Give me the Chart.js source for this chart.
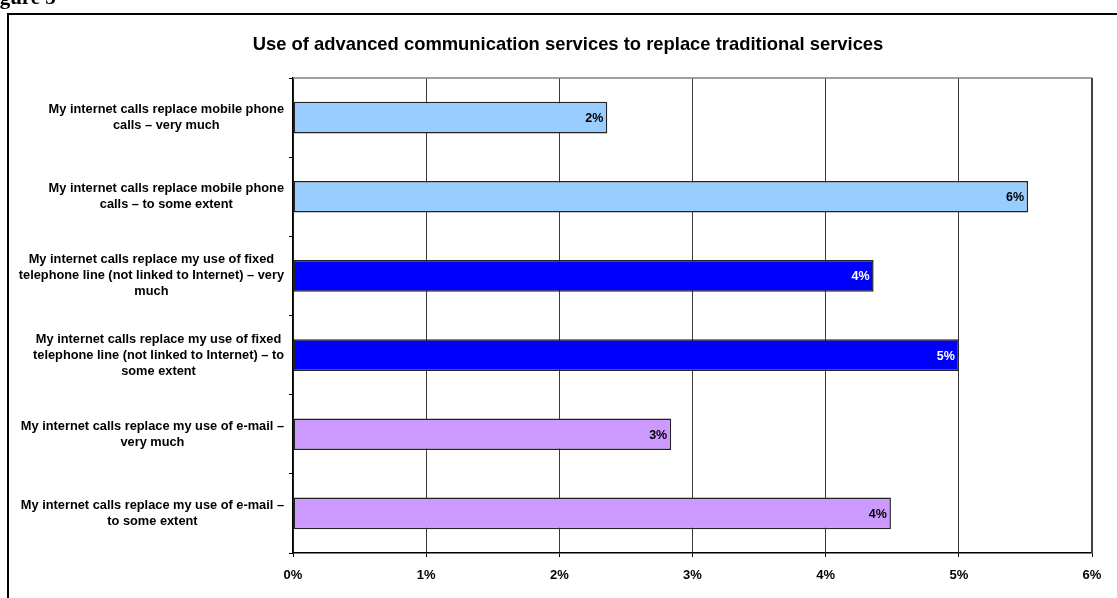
<!DOCTYPE html>
<html>
<head>
<meta charset="utf-8">
<script src="https://cdn.jsdelivr.net/npm/chart.js@4/dist/chart.umd.min.js"></script>
<style>
  html, body { margin: 0; padding: 0; background: #fff; }
  #wrap { position: relative; width: 1117px; height: 598px; overflow: hidden; }
</style>
</head>
<body>
<div id="wrap"><canvas id="chart" width="1117" height="598"></canvas></div>
<script>
// categories (y axis labels, top to bottom)
const categories = [
  ["My internet calls replace mobile phone", "calls \u2013 very much"],
  ["My internet calls replace mobile phone", "calls \u2013 to some extent"],
  ["My internet calls replace my use of fixed", "telephone line (not linked to Internet) \u2013 very", "much"],
  ["My internet calls replace my use of fixed", "telephone line (not linked to Internet) \u2013 to", "some extent"],
  ["My internet calls replace my use of e-mail \u2013", "very much"],
  ["My internet calls replace my use of e-mail \u2013", "to some extent"]
];
// share of respondents, in percent
const values = [2.36, 5.52, 4.36, 5.00, 2.84, 4.49];
const barColors = ["#99CCFF", "#99CCFF", "#0000FF", "#0000FF", "#CC99FF", "#CC99FF"];
const labelColors = ["#000", "#000", "#fff", "#fff", "#000", "#000"];
const xTicks = [0, 1, 2, 3, 4, 5, 6];
const chartTitle = "Use of advanced communication services to replace traditional services";

Chart.defaults.font.family = '"Liberation Sans", Arial, sans-serif';
Chart.defaults.color = "#000";

const decor = {
  id: "decor",
  beforeDraw(chart) {
    const ctx = chart.ctx;
    ctx.save();
    // cut-off caption above the chart box
    ctx.fillStyle = "#000";
    ctx.font = 'bold 21px "Liberation Serif", "Times New Roman", serif';
    ctx.textBaseline = "alphabetic";
    ctx.textAlign = "left";
    ctx.fillText("Figure 3", -19, 4);
    // outer chart box
    ctx.strokeStyle = "#000";
    ctx.lineWidth = 2;
    ctx.strokeRect(8, 14, 1200, 700);
    // title
    ctx.font = 'bold 18.4px "Liberation Sans", Arial, sans-serif';
    ctx.textAlign = "center";
    ctx.textBaseline = "middle";
    ctx.fillText(chartTitle, 568, 45);
    ctx.restore();
  },
  beforeDatasetsDraw(chart) {
    const { ctx, chartArea: a } = chart;
    ctx.save();
    ctx.strokeStyle = "#808080";
    ctx.lineWidth = 1.5;
    ctx.beginPath();
    ctx.moveTo(a.left, a.top);
    ctx.lineTo(a.right, a.top);
    ctx.stroke();
    ctx.strokeStyle = "#404040";
    ctx.lineWidth = 2;
    ctx.beginPath();
    ctx.moveTo(a.right, a.top);
    ctx.lineTo(a.right, a.bottom);
    ctx.stroke();
    ctx.restore();
  },
  afterDatasetsDraw(chart) {
    const ctx = chart.ctx;
    const meta = chart.getDatasetMeta(0);
    ctx.save();
    ctx.font = 'bold 12.5px "Liberation Sans", Arial, sans-serif';
    ctx.textAlign = "right";
    ctx.textBaseline = "middle";
    meta.data.forEach((bar, i) => {
      ctx.fillStyle = labelColors[i];
      ctx.fillText(Math.round(values[i]) + "%", bar.x - 4, bar.y + 1);
    });
    // category labels: centred lines, block right-aligned to the axis
    ctx.font = 'bold 12.8px "Liberation Sans", Arial, sans-serif';
    const yScale = chart.scales.y;
    const right = yScale.right - 9;
    categories.forEach((lines, i) => {
      const y = yScale.getPixelForValue(i);
      const w = Math.max(...lines.map(l => ctx.measureText(l).width));
      const cx = right - w / 2;
      ctx.fillStyle = "#000";
      ctx.textAlign = "center";
      lines.forEach((l, j) => {
        ctx.fillText(l, cx, y + (j - (lines.length - 1) / 2) * 16);
      });
    });
    ctx.restore();
  }
};

new Chart(document.getElementById("chart"), {
  type: "bar",
  data: {
    labels: categories,
    datasets: [{
      data: values,
      backgroundColor: barColors,
      borderColor: "#222",
      borderWidth: 1.5,
      borderSkipped: false,
      barPercentage: 0.4,
      categoryPercentage: 1
    }]
  },
  options: {
    indexAxis: "y",
    responsive: false,
    animation: false,
    layout: { padding: { top: 78, left: 0, right: 25, bottom: 0 } },
    plugins: { legend: { display: false }, tooltip: { enabled: false }, title: { display: false } },
    scales: {
      x: {
        min: 0, max: 6,
        afterFit(scale) { scale.height = 45; },
        afterBuildTicks(scale) { scale.ticks = xTicks.map(v => ({ value: v })); },
        ticks: {
          stepSize: 1,
          padding: 11,
          font: { size: 13, weight: "bold" },
          callback: v => v + "%"
        },
        grid: { color: "#3a3a3a", lineWidth: 1, tickLength: 4, tickColor: "#000" },
        border: { display: true, color: "#000", width: 1.5 }
      },
      y: {
        afterFit(scale) { scale.width = 293; },
        ticks: { display: false },
        grid: { drawOnChartArea: false, tickLength: 4, color: "#000", offset: true },
        border: { display: true, color: "#000", width: 1.5 }
      }
    }
  },
  plugins: [decor]
});
</script>
</body>
</html>
